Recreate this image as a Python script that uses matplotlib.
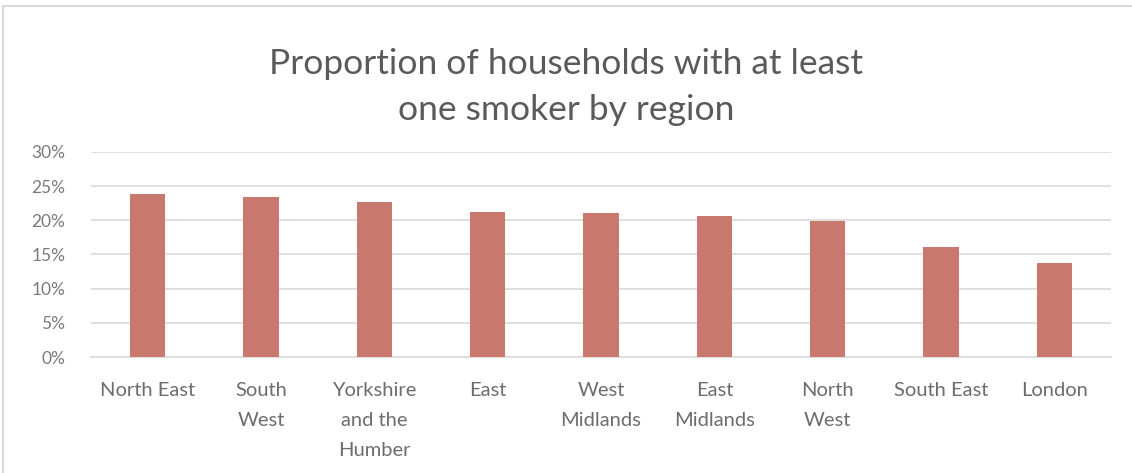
import matplotlib
matplotlib.use("Agg")
import matplotlib.pyplot as plt
from matplotlib.patches import Rectangle
from matplotlib.ticker import FuncFormatter

regions = ["North East", "South\nWest", "Yorkshire\nand the\nHumber", "East",
           "West\nMidlands", "East\nMidlands", "North\nWest", "South East", "London"]
values = [23.8, 23.4, 22.7, 21.2, 21.1, 20.7, 19.9, 16.1, 13.8]
yticks = [0, 5, 10, 15, 20, 25, 30]
title = "Proportion of households with at least\none smoker by region"

plt.rcParams['font.family'] = ['Lato', 'DejaVu Sans']

fig = plt.figure(figsize=(11.32, 4.73), dpi=100)
fig.patches.append(Rectangle((3/1132, -0.1), 1.2, (1 - 6/473) + 0.1, transform=fig.transFigure,
                             fill=False, edgecolor='#d9d9d9', linewidth=1.5))

ax = fig.add_axes([91/1132, 1 - 357/473, 1020/1132, 205/473])
x = range(len(regions))
ax.bar(x, values, width=0.31, color='#C8786C', zorder=3)
ax.set_xlim(-0.5, len(regions) - 0.5)
ax.set_ylim(0, 30)
ax.set_yticks(yticks)
ax.yaxis.set_major_formatter(FuncFormatter(lambda v, p: f"{int(v)}%"))
ax.set_xticks(list(x))
ax.set_xticklabels(regions, fontsize=14.5, color='#6d6d6d', linespacing=1.93, va='top')
ax.tick_params(axis='y', labelsize=12.5, labelcolor='#7a7a7a', length=0, pad=18.5)
ax.tick_params(axis='x', length=0, pad=18)
ax.grid(axis='y', color='#dcdcdc', linewidth=1.3, zorder=0)
for s in ['top', 'right', 'left']:
    ax.spines[s].set_visible(False)
ax.spines['bottom'].set_color('#dcdcdc')
ax.spines['bottom'].set_linewidth(1.3)

title_lines = title.split("\n")
baselines = [74, 120]
for line, yb in zip(title_lines, baselines):
    fig.text(0.5, 1 - yb/473, line, ha='center', va='baseline', fontsize=25.5,
             color='#5a5a5a')

fig.savefig("out.png", dpi=100)
